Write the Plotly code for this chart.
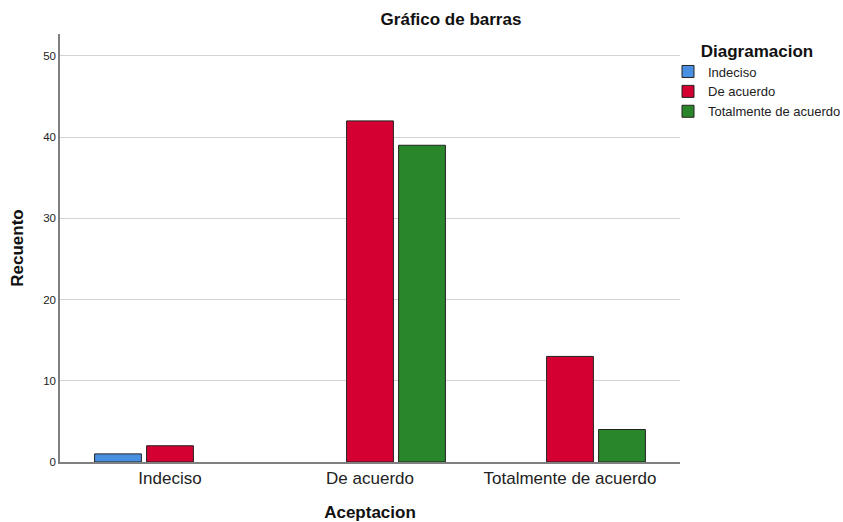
import plotly.graph_objects as go

categories = ["Indeciso", "De acuerdo", "Totalmente de acuerdo"]
series_names = ["Indeciso", "De acuerdo", "Totalmente de acuerdo"]
indeciso_vals = [1, None, None]
de_acuerdo_vals = [2, 42, 13]
totalmente_vals = [None, 39, 4]
y_ticks = [0, 10, 20, 30, 40, 50]

colors = ["#4A90E2", "#D50032", "#2A862A"]
FONT = "Liberation Sans, Arial, sans-serif"

fig = go.Figure()
for name, vals, col in zip(series_names, [indeciso_vals, de_acuerdo_vals, totalmente_vals], colors):
    fig.add_trace(go.Bar(
        x=categories, y=vals, name=name,
        marker=dict(color=col, line=dict(color="#222222", width=1)),
    ))

fig.update_layout(
    width=843, height=522,
    barmode="group", bargap=0.22, bargroupgap=0.1,
    plot_bgcolor="white", paper_bgcolor="white",
    margin=dict(l=60, r=163, t=34, b=60, autoexpand=False),
    font=dict(family=FONT, color="#222222"),
    title=dict(text="<b>Gráfico de barras</b>", x=451/843, xref="container", xanchor="center",
               y=1 - 13/522, yref="container", yanchor="top",
               font=dict(size=17, family=FONT, color="#111111")),
    legend=dict(
        x=(668 - 60) / 620, xref="paper", xanchor="left", y=0.999, yanchor="top",
        title=dict(text="<b>Diagramacion</b>", side="top center", font=dict(size=17, family=FONT, color="#111111")),
        font=dict(size=13, family=FONT, color="#222222"),
        itemwidth=30, tracegroupgap=0, bgcolor="rgba(0,0,0,0)",
    ),
    xaxis=dict(
        range=[-0.55, 2.55], showline=True, linecolor="#808080", linewidth=1.5,
        ticks="", tickfont=dict(size=17, family=FONT, color="#222222"),
        title=dict(text="<b>Aceptacion</b>", font=dict(size=17, family=FONT, color="#111111"), standoff=21),
        showgrid=False, zeroline=False,
    ),
    yaxis=dict(
        range=[0, 52.7], tickvals=y_ticks, showline=True, linecolor="#808080", linewidth=1.5,
        ticks="", tickfont=dict(size=11.5, family=FONT, color="#222222"),
        showgrid=True, gridcolor="#D3D3D3", gridwidth=1.2, zeroline=False,
        title=dict(text="<b>Recuento</b>", font=dict(size=17, family=FONT, color="#111111"), standoff=15),
    ),
)

fig.write_html("out.html", config={"displayModeBar": False},
               post_script="document.body.style.margin='0';")
